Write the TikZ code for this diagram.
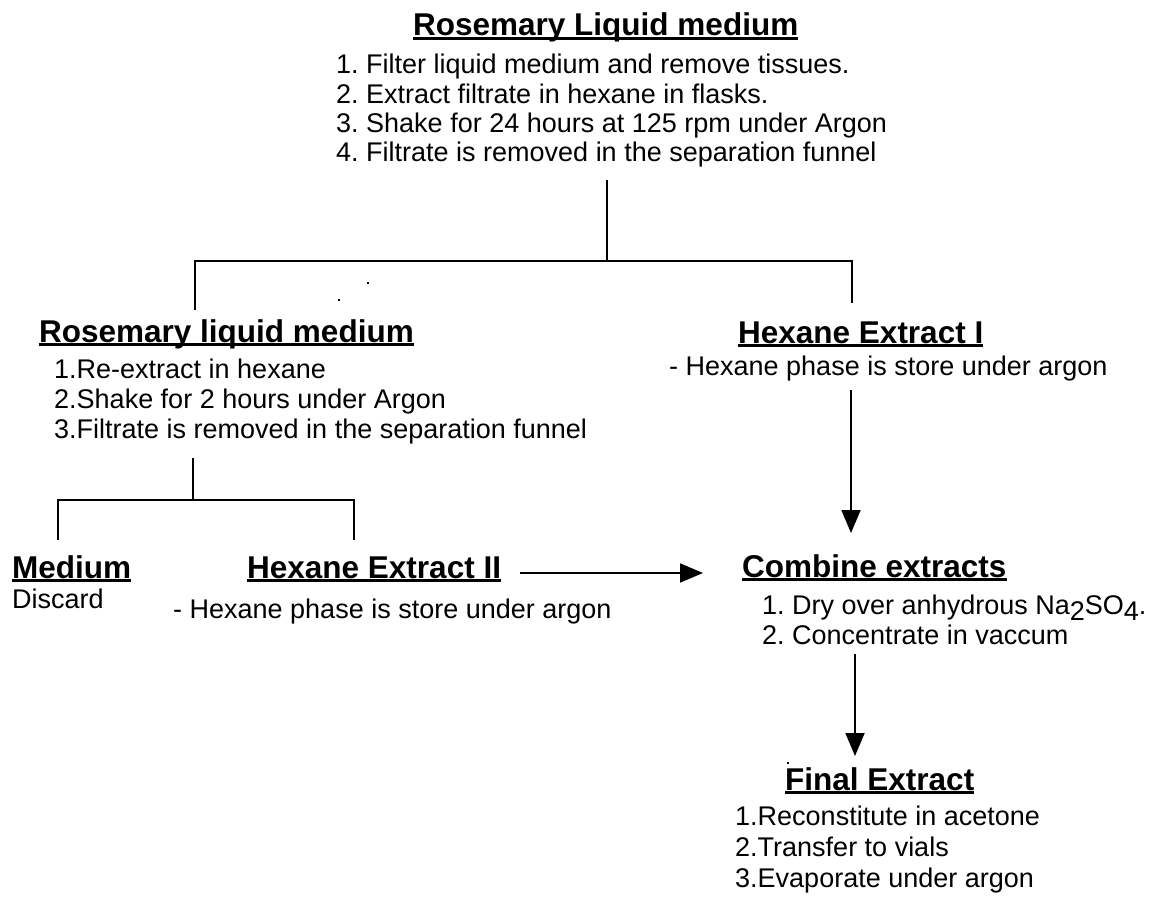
\documentclass[tikz,border=0pt]{standalone}
\usepackage{fontspec}
\setmainfont{Liberation Sans}
\usetikzlibrary{arrows.meta}
\newcommand\ulbox[1]{\setbox0\hbox{#1}\rlap{\rule[-3.6pt]{\wd0}{2.4pt}}\box0}
\frenchspacing
\begin{document}
\begin{tikzpicture}[x=1pt,y=-1pt,
  ttl/.style={anchor=base west, inner sep=0pt, font=\fontsize{31.5}{36}\selectfont\bfseries},
  txt/.style={anchor=base west, inner sep=0pt, font=\fontsize{27}{31}\selectfont},
  ln/.style={line width=2pt},
  arr/.style={line width=1.8pt, -{Triangle[length=23pt,width=19pt]}},
  speck/.style={fill=black, minimum size=2.5pt, inner sep=0pt, shape=rectangle}]
\useasboundingbox (0,0) rectangle (1149,899);

% top block
\node[ttl] (t0) at (413,36) {\ulbox{Rosemary Liquid medium}};
\node[txt] (t1) at (336,74) {1. Filter liquid medium and remove tissues.};
\node[txt] (t2) at (336,103) {2. Extract filtrate in hexane in flasks.};
\node[txt] (t3) at (336,132) {3. Shake for 24 hours at 125 rpm under Argon};
\node[txt] (t4) at (336,161) {4. Filtrate is removed in the separation funnel};

% left block
\node[ttl] (l0) at (39,342) {\ulbox{Rosemary liquid medium}};
\node[txt] (l1) at (54,378) {1.Re-extract in hexane};
\node[txt] (l2) at (54,408) {2.Shake for 2 hours under Argon};
\node[txt] (l3) at (54,438) {3.Filtrate is removed in the separation funnel};

% right block
\node[ttl] (r0) at (738,343) {\ulbox{Hexane Extract I}};
\node[txt] (r1) at (669,375) {- Hexane phase is store under argon};

% bottom left
\node[ttl] (m0) at (12,578) {\ulbox{Medium}};
\node[txt] (m1) at (12,608) {Discard};
\node[ttl] (h0) at (247,578) {\ulbox{Hexane Extract II}};
\node[txt] (h1) at (173,618) {- Hexane phase is store under argon};

% combine
\node[ttl] (c0) at (742,577) {\ulbox{Combine extracts}};
\node[txt] (c1) at (762,614) {1. Dry over anhydrous Na\raisebox{-6pt}{2}SO\raisebox{-6pt}{4}.};
\node[txt] (c2) at (762,644) {2. Concentrate in vaccum};

% final
\node[ttl] (f0) at (785,790) {\ulbox{Final Extract}};
\node[txt] (f1) at (735,825) {1.Reconstitute in acetone};
\node[txt] (f2) at (735,856) {2.Transfer to vials};
\node[txt] (f3) at (735,887) {3.Evaporate under argon};

% tree coordinates
\coordinate (s0) at (607,180);
\coordinate (j0) at (607,261);
\coordinate (jl) at (195,261);
\coordinate (jr) at (852,261);
\coordinate (el) at (195,310);
\coordinate (er) at (852,303);
\coordinate (s1) at (193,458);
\coordinate (j1) at (193,500);
\coordinate (kl) at (58,500);
\coordinate (kr) at (354,500);
\coordinate (fl) at (58,540);
\coordinate (fr) at (354,540);

\draw[ln] (s0) -- (j0);
\draw[ln] (el) -- (jl) -- (jr) -- (er);
\draw[ln] (s1) -- (j1);
\draw[ln] (fl) -- (kl) -- (kr) -- (fr);

% arrows
\coordinate (a1s) at (851,390);
\coordinate (a1e) at (851,533);
\draw[arr] (a1s) -- (a1e);
\coordinate (a2s) at (520,573);
\coordinate (a2e) at (703,573);
\draw[arr] (a2s) -- (a2e);
\coordinate (a3s) at (855,654);
\coordinate (a3e) at (855,756);
\draw[arr] (a3s) -- (a3e);

% stray specks
\node[speck] (d1) at (368,283) {};
\node[speck] (d2) at (339,300) {};
\node[speck] (d4) at (788,763) {};
\end{tikzpicture}
\end{document}
